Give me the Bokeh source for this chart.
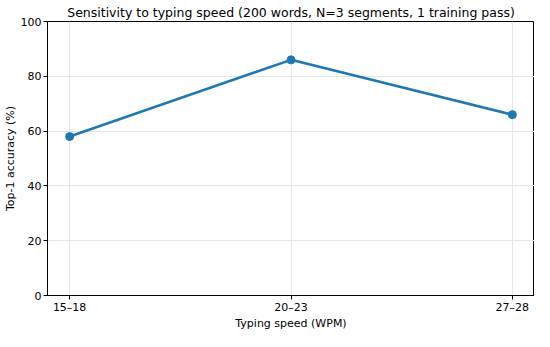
from bokeh.plotting import figure
from bokeh.embed import file_html
from bokeh.resources import INLINE
from bokeh.models import Range1d, FixedTicker, Title

categories = ["15–18", "20–23", "27–28"]
accuracy = [58, 86, 66]
y_ticks = [0, 20, 40, 60, 80, 100]

xs = list(range(len(categories)))

p = figure(width=534, height=331, output_backend="svg", toolbar_location=None,
           x_range=Range1d(-0.1, 2.1), y_range=Range1d(0, 100),
           title="Sensitivity to typing speed (200 words, N=3 segments, 1 training pass)",
           min_border_left=38, min_border_top=0, min_border_right=0, min_border_bottom=0)

p.title.text_font = "DejaVu Sans"
p.title.text_font_size = "12.5px"
p.title.text_font_style = "normal"
p.title.align = "center"
p.title.text_color = "#000000"
p.title.standoff = 4

p.line(xs, accuracy, line_color="#1f77b4", line_width=2.6)
p.scatter(xs, accuracy, size=8, fill_color="#1f77b4", line_color="#1f77b4")

p.xaxis.ticker = FixedTicker(ticks=xs)
p.xaxis.major_label_overrides = {i: c for i, c in enumerate(categories)}
p.yaxis.ticker = FixedTicker(ticks=y_ticks)

p.yaxis.axis_label = "Top-1 accuracy (%)"
for ax in (p.xaxis, p.yaxis):
    ax.axis_label_text_font = "DejaVu Sans"
    ax.axis_label_text_font_size = "11px"
    ax.axis_label_text_font_style = "normal"
    ax.axis_label_text_color = "#000000"
    ax.major_label_text_font = "DejaVu Sans"
    ax.major_label_text_font_size = "11px"
    ax.major_label_text_color = "#000000"
    ax.axis_line_color = "#000000"
    ax.major_tick_line_color = "#000000"
    ax.major_tick_out = 4
    ax.major_tick_in = 0
    ax.minor_tick_line_color = None
    ax.axis_label_standoff = 1
    ax.major_label_standoff = 2
p.xaxis.major_label_standoff = 1
p.xaxis.axis_label_standoff = 0
p.xaxis.major_label_text_line_height = 1.0

xtitle = Title(text="Typing speed (WPM)", align="center", text_font="DejaVu Sans",
               text_font_size="11px", text_font_style="normal", text_color="#000000",
               standoff=0, offset=0, text_line_height=0.9, vertical_align="top")
p.add_layout(xtitle, "below")

p.xgrid.grid_line_color = "#e6e6e6"
p.ygrid.grid_line_color = "#e6e6e6"
p.outline_line_color = "#000000"
p.outline_line_width = 1
p.background_fill_color = "white"
p.border_fill_color = "white"

open("out.html", "w").write(file_html(p, INLINE))
